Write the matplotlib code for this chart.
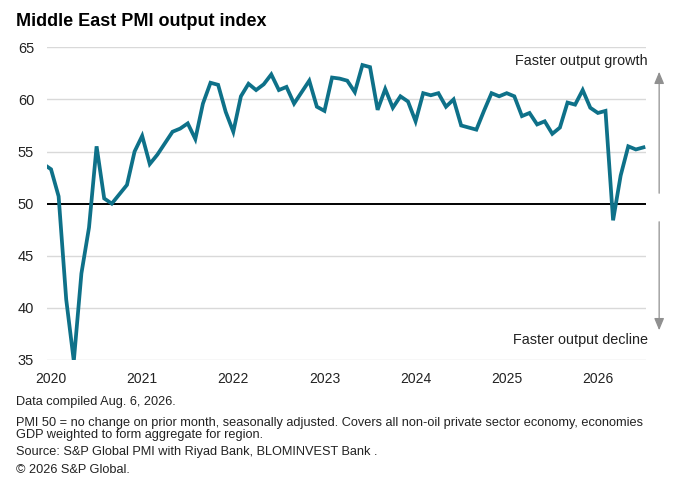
import numpy as np
import pandas as pd
import matplotlib
matplotlib.use("Agg")
import matplotlib.pyplot as plt

plt.rcParams['font.family'] = ['Liberation Sans', 'DejaVu Sans']

# monthly Middle East PMI output index, Dec 2019 - Jul 2026
months = pd.date_range('2019-12-01', periods=80, freq='MS')
pmi = [53.8,
       53.3, 50.7, 40.8, 34.9, 43.3, 47.7, 55.5, 50.5, 50.0, 50.9, 51.8, 55.0,
       56.5, 53.8, 54.7, 55.8, 56.9, 57.2, 57.7, 56.2, 59.6, 61.6, 61.4, 58.8,
       56.9, 60.3, 61.5, 60.9, 61.45, 62.4, 60.9, 61.2, 59.6, 60.7, 61.8, 59.3,
       58.9, 62.1, 62.0, 61.8, 60.7, 63.3, 63.1, 59.0, 61.0, 59.2, 60.3, 59.8,
       57.9, 60.6, 60.4, 60.6, 59.3, 60.0, 57.5, 57.3, 57.1, 58.9, 60.6, 60.3,
       60.6, 60.3, 58.4, 58.7, 57.6, 57.9, 56.7, 57.3, 59.7, 59.5, 60.9, 59.2,
       58.7, 58.9, 48.4, 52.7, 55.5, 55.2, 55.4]
yticks = [35, 40, 45, 50, 55, 60, 65]

footnotes = [
    "Data compiled Aug. 6, 2026.",
    "PMI 50 = no change on prior month, seasonally adjusted. Covers all non-oil private sector economy, economies\nGDP weighted to form aggregate for region.",
    "Source: S&P Global PMI with Riyad Bank, BLOMINVEST Bank .",
    "\u00a9 2026 S&P Global.",
]

line_col = '#0e7189'
x = np.arange(len(months))

fig = plt.figure(figsize=(6.99, 4.97), dpi=100)
ax = fig.add_axes([0.0668, 0.2757, 0.857, 0.6291])

for yv in yticks:
    if yv != 50:
        ax.axhline(yv, color='#d9d9d9', lw=1.0, zorder=1)
ax.axhline(50, color='black', lw=1.4, zorder=2)
ax.plot(x, pmi, color=line_col, lw=2.7, solid_joinstyle='miter', zorder=3)

ax.set_ylim(35, 65)
ax.set_xlim(0.43, 79.3)
ax.set_yticks(yticks)
jan = [i for i, m in enumerate(months) if m.month == 1]
ax.set_xticks(jan)
ax.set_xticklabels([str(months[i].year) for i in jan])
ax.tick_params(axis='both', length=0, colors='#222222')
ax.tick_params(axis='y', pad=9, labelsize=10.5)
ax.tick_params(axis='x', pad=9, labelsize=10)
for s in ax.spines.values():
    s.set_visible(False)

# title
fig.text(0.023, 0.947, "Middle East PMI output index", fontsize=13,
         fontweight='bold', ha='left', va='baseline')

# growth / decline labels and arrows
fig.text(0.927, 0.877, "Faster output growth", fontsize=10.4, ha='right',
         va='center', color='#222222')
fig.text(0.927, 0.315, "Faster output decline", fontsize=10.4, ha='right',
         va='center', color='#222222')
fig.add_artist(matplotlib.patches.FancyArrowPatch(
    (0.943, 1 - 196 / 497), (0.943, 1 - 69 / 497), transform=fig.transFigure,
    arrowstyle='-|>,head_length=0.6,head_width=0.25', color='#909090',
    lw=0.9, mutation_scale=12))
fig.add_artist(matplotlib.patches.FancyArrowPatch(
    (0.943, 1 - 219 / 497), (0.943, 1 - 333 / 497), transform=fig.transFigure,
    arrowstyle='-|>,head_length=0.6,head_width=0.25', color='#909090',
    lw=0.9, mutation_scale=12))

# footnotes
ys = [402, 429, 452, 470]
for txt, yp in zip(footnotes, ys):
    fig.text(0.023, 1 - yp / 497, txt, fontsize=9.2, ha='left', va='center',
             color='#222222', linespacing=1.0)

fig.savefig('out.png', dpi=100)
